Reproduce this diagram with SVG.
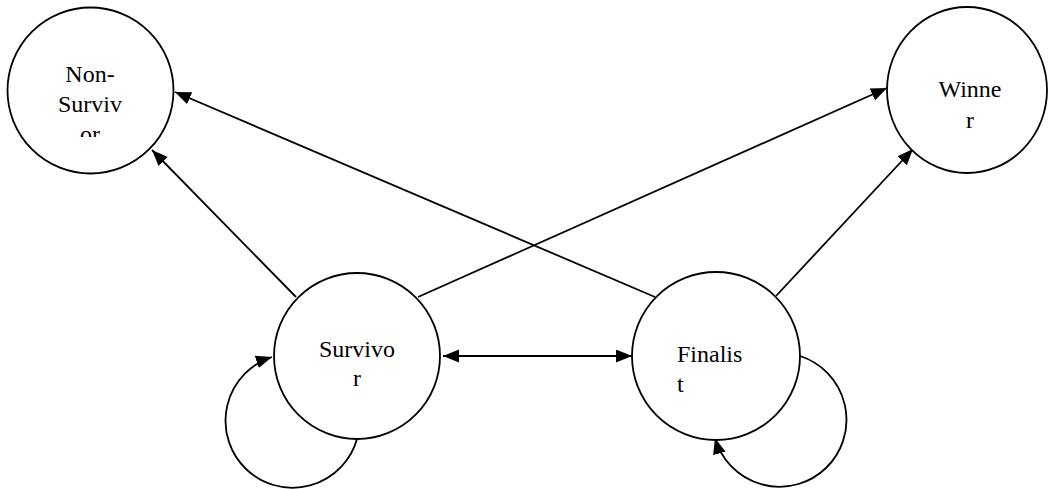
<svg xmlns="http://www.w3.org/2000/svg" width="1048" height="489" viewBox="0 0 1048 489">
<style>
.node{fill:#fff;stroke:#000;stroke-width:1.8}
.lbl{font-family:'Liberation Serif','Times New Roman',serif;font-size:24px;fill:#000}
.edge{fill:none;stroke:#000;stroke-width:1.8}
</style>
<defs>
<marker id="ah" markerUnits="userSpaceOnUse" markerWidth="17" markerHeight="14" refX="16" refY="6.5" orient="auto-start-reverse">
<path d="M0,0 L16,6.5 L0,13 z" fill="#000"/>
</marker>
<clipPath id="nsclip"><rect x="0" y="0" width="200" height="137"/></clipPath>
</defs>
<g id="connectors">
<line class="edge" x1="655" y1="297" x2="175" y2="92" marker-end="url(#ah)"/>
<line class="edge" x1="296" y1="297" x2="152" y2="150" marker-end="url(#ah)"/>
<line class="edge" x1="418" y1="297" x2="887" y2="88" marker-end="url(#ah)"/>
<line class="edge" x1="776" y1="296" x2="913" y2="149" marker-end="url(#ah)"/>
<line class="edge" x1="443" y1="356" x2="632" y2="356" marker-start="url(#ah)" marker-end="url(#ah)"/>
<path class="edge" d="M357,439 A67,67 0 1 1 272,357" marker-end="url(#ah)"/>
<path class="edge" d="M800,356 A67,67 0 1 1 715,438" marker-end="url(#ah)"/>
</g>
<g id="non-survivor">
<circle class="node" cx="90.5" cy="90.5" r="83"/>
<g clip-path="url(#nsclip)">
<text class="lbl" x="90" y="82" text-anchor="middle">Non-</text>
<text class="lbl" x="90" y="112" text-anchor="middle">Surviv</text>
<text class="lbl" x="90" y="142" text-anchor="middle">or</text>
</g>
</g>
<g id="winner">
<ellipse class="node" cx="967" cy="90" rx="80" ry="83"/>
<text class="lbl" x="970" y="97" text-anchor="middle">Winne</text>
<text class="lbl" x="970" y="128" text-anchor="middle">r</text>
</g>
<g id="survivor">
<circle class="node" cx="357" cy="356" r="83"/>
<text class="lbl" x="357" y="357" text-anchor="middle">Survivo</text>
<text class="lbl" x="357" y="386" text-anchor="middle">r</text>
</g>
<g id="finalist">
<circle class="node" cx="716" cy="356" r="84"/>
<text class="lbl" x="677" y="362">Finalis</text>
<text class="lbl" x="677" y="392">t</text>
</g>
</svg>
